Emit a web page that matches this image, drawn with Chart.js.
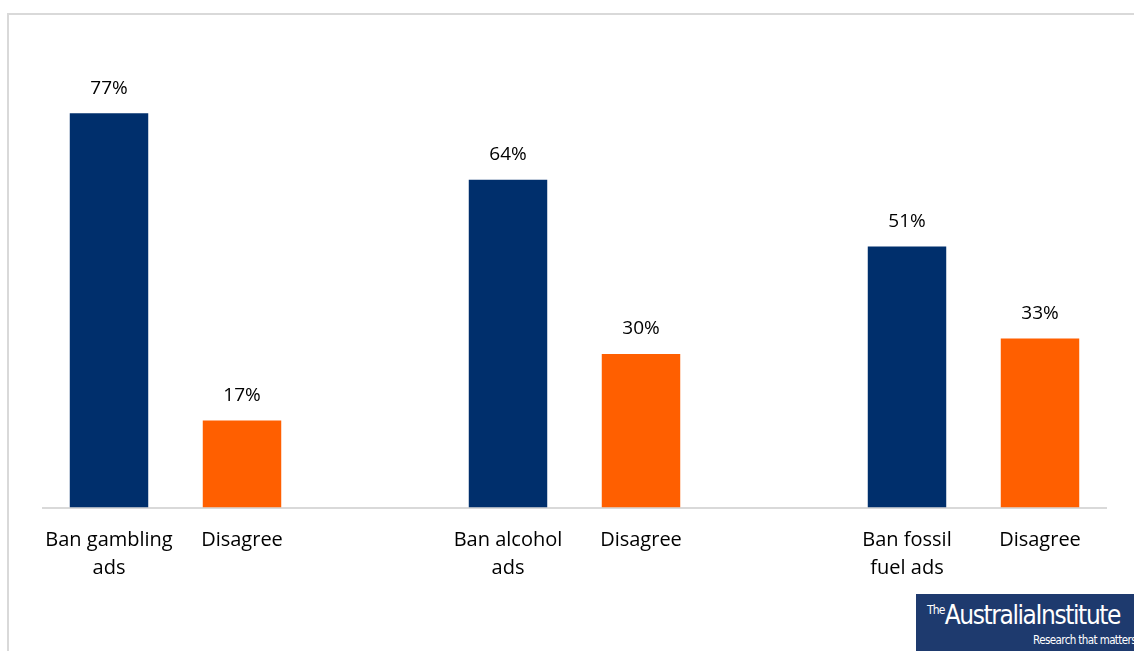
<!DOCTYPE html>
<html>
<head>
  <title>Advertising bans</title>
  <script src="https://cdn.jsdelivr.net/npm/chart.js"></script>
  <style>
    body { margin: 0; background: #fff; }
    #wrap { position: relative; width: 1134px; height: 651px; overflow: hidden; }
    #frame {
      position: absolute; left: 7px; top: 13px; width: 1140px; height: 660px;
      border-left: 2px solid #d9d9d9; border-top: 2px solid #d9d9d9;
    }
    #logo {
      position: absolute; left: 916px; top: 594px; width: 218px; height: 57px;
      background: #1e3a6e; color: #fff; font-family: "DejaVu Sans Condensed", "Liberation Sans Narrow", sans-serif;
    }
    #logo .name { position: absolute; left: 11px; top: 6px; font-size: 26px; letter-spacing: -1.4px; white-space: nowrap; }
    #logo .name sup { font-size: 12px; letter-spacing: -0.8px; vertical-align: 10px; }
    #logo .tag { position: absolute; right: -2px; top: 39px; font-size: 11.5px; white-space: nowrap; letter-spacing: -0.6px; }
    canvas { position: absolute; left: 0; top: 0; }
  </style>
</head>
<body>
  <div id="wrap">
    <div id="frame"></div>
    <canvas id="chart" width="1134" height="651"></canvas>
    <div id="logo"><div class="name"><sup>The</sup>AustraliaInstitute</div><div class="tag">Research that matters</div></div>
  </div>

  <script>
    const labels = [["Ban gambling", "ads"], "Disagree", "", ["Ban alcohol", "ads"], "Disagree", "", ["Ban fossil", "fuel ads"], "Disagree"];
    const values = [77, 17, null, 64, 30, null, 51, 33];
    const colors = ["#002f6c", "#ff5f00", "#fff", "#002f6c", "#ff5f00", "#fff", "#002f6c", "#ff5f00"];

    const font = "'Open Sans', Lato, sans-serif";

    // value labels above each bar
    const valueLabels = {
      id: "valueLabels",
      afterDatasetsDraw(chart) {
        const c = chart.ctx;
        const meta = chart.getDatasetMeta(0);
        c.save();
        c.fillStyle = "#000";
        c.font = "19px " + font;
        c.textAlign = "center";
        c.textBaseline = "middle";
        meta.data.forEach((bar, i) => {
          if (values[i] == null) return;
          c.fillText(values[i] + "%", bar.x, bar.y - 25);
        });
        c.restore();
      }
    };

    new Chart(document.getElementById("chart"), {
      type: "bar",
      data: {
        labels: labels,
        datasets: [{ data: values, backgroundColor: colors, barPercentage: 0.59, categoryPercentage: 1 }]
      },
      options: {
        responsive: false,
        animation: false,
        layout: { padding: { left: 42.5, right: 27.5, top: 46.7, bottom: 0 } },
        plugins: { legend: { display: false }, tooltip: { enabled: false } },
        scales: {
          x: {
            grid: { display: false },
            border: { color: "#d9d9d9", width: 2 },
            ticks: { color: "#000", font: { size: 20, family: font, lineHeight: 1.4 }, padding: 11, maxRotation: 0, autoSkip: false },
            afterFit(scale) { scale.height = 143.5; }
          },
          y: { display: false, min: 0, max: 90 }
        }
      },
      plugins: [valueLabels]
    });
  </script>
</body>
</html>
